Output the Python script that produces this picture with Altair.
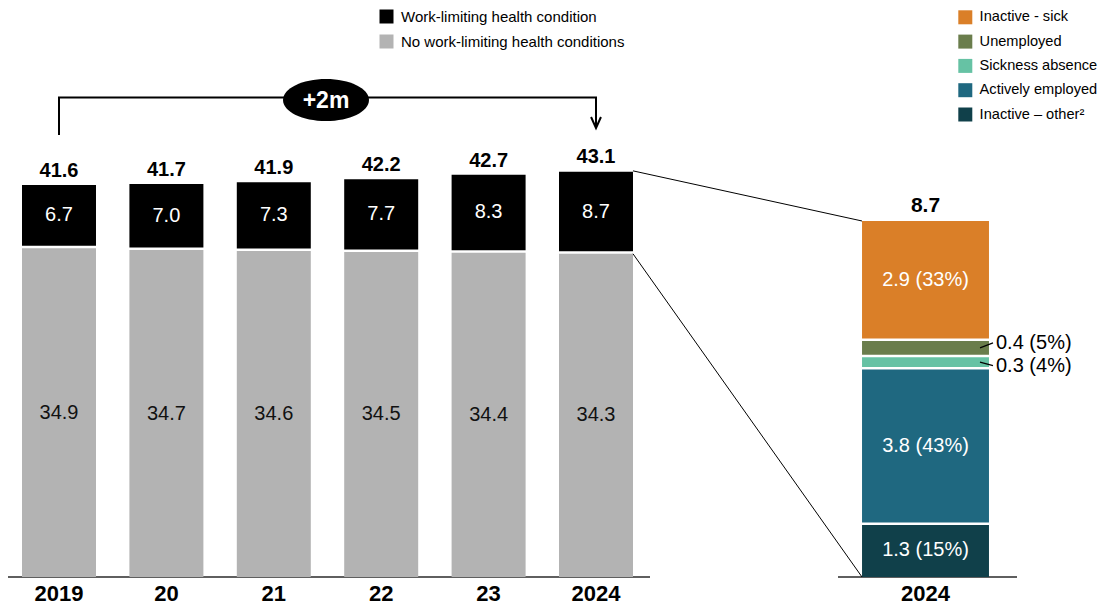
import altair as alt
import pandas as pd

# ---------------- data ----------------
years = ["2019", "20", "21", "22", "23", "2024"]
work_limiting = [6.7, 7.0, 7.3, 7.7, 8.3, 8.7]
no_work_limiting = [34.9, 34.7, 34.6, 34.5, 34.4, 34.3]
totals = [41.6, 41.7, 41.9, 42.2, 42.7, 43.1]
left_series = ["Work-limiting health condition", "No work-limiting health conditions"]
left_colors = ["#000000", "#B3B3B3"]

breakdown_year = "2024"
breakdown_total = 8.7
breakdown_cats = ["Inactive - sick", "Unemployed", "Sickness absence",
                  "Actively employed", "Inactive \u2013 other\u00b2"]   # top -> bottom
breakdown_vals = [2.9, 0.4, 0.3, 3.8, 1.3]
breakdown_pct = [33, 5, 4, 43, 15]
breakdown_colors = ["#DA7F28", "#6A7D4C", "#66C2A4", "#1F6880", "#10404A"]
change_label = "+2m"

# ---------------- layout ----------------
FONT = "Liberation Sans, Arial, sans-serif"
W, H = 1091, 598
SLOT_PX = 107.4          # px between bar centres
UNIT_PX = 9.423          # px per million on the left scale
X0, Y0 = 59, 577         # page px of first bar centre / baseline


def u(px):   # page px -> x units
    return (px - X0) / SLOT_PX


def v(py):   # page px -> y units
    return (Y0 - py) / UNIT_PX


xscale = alt.Scale(domain=[u(8), u(8 + W)], nice=False, zero=False)
yscale = alt.Scale(domain=[v(8 + H), v(8)], nice=False, zero=False)

HW = 0.3445              # left bar half width (slots)
R_SLOT = 8.068           # right bar centre
R_HW = 0.591             # right bar half width
ZOOM = 37.78 / breakdown_total   # right bar magnification
GAP = 2.5 / UNIT_PX


def X(f="x"):
    return alt.X(f"{f}:Q", scale=xscale, axis=None)


def Y(f="y"):
    return alt.Y(f"{f}:Q", scale=yscale, axis=None)


def legend(x, y, rp, fs):
    return alt.Legend(title=None, orient="none", legendX=x, legendY=y,
                      symbolType="square", symbolSize=196, symbolStrokeWidth=0,
                      symbolOpacity=1, labelFont=FONT, labelFontSize=fs,
                      labelColor="#000000", labelOffset=7, labelLimit=400,
                      rowPadding=rp, padding=0)


# ---- left stacked bars ----
rows = []
for i, (yr, wl, nwl) in enumerate(zip(years, work_limiting, no_work_limiting)):
    rows.append(dict(x=i - HW, x2=i + HW, y=0, y2=nwl, left_cat=left_series[1], xc=i,
                     mid=nwl / 2, lab=f"{nwl:.1f}", tc="#111111"))
    rows.append(dict(x=i - HW, x2=i + HW, y=nwl + GAP, y2=nwl + wl, left_cat=left_series[0], xc=i,
                     mid=nwl + wl / 2 + GAP / 2, lab=f"{wl:.1f}", tc="#ffffff"))
left_df = pd.DataFrame(rows)

left_bars = alt.Chart(left_df).mark_rect().encode(
    x=X(), x2="x2:Q", y=Y(), y2="y2:Q",
    color=alt.Color("left_cat:N",
                    scale=alt.Scale(domain=left_series, range=left_colors),
                    legend=legend(371, 1, 9, 15)),
)

seg_labels = alt.Chart(left_df).mark_text(font=FONT, fontSize=20, baseline="middle").encode(
    x=X("xc"), y=Y("mid"), text="lab:N", color=alt.Color("tc:N", scale=None))

tot_df = pd.DataFrame(dict(x=list(range(len(years))), y=totals,
                           lab=[f"{t:.1f}" for t in totals]))
tot_labels = alt.Chart(tot_df).mark_text(font=FONT, fontSize=20, fontWeight="bold",
                                         baseline="alphabetic", dy=-8, color="#000").encode(
    x=X(), y=Y(), text="lab:N")

# ---- right stacked bar ----
rrows = []
start = 0.0
n = len(breakdown_cats)
order_bt = list(range(n))[::-1]   # bottom -> top
for k, idx in enumerate(order_bt):
    val = breakdown_vals[idx]
    y0 = start * ZOOM + (GAP / 2 if k > 0 else 0)
    y1 = (start + val) * ZOOM - (GAP / 2 if k < n - 1 else 0)
    rrows.append(dict(x=R_SLOT - R_HW, x2=R_SLOT + R_HW, y=y0, y2=y1,
                      right_cat=breakdown_cats[idx], val=val,
                      mid=(start + val / 2) * ZOOM,
                      lab=f"{val:.1f} ({breakdown_pct[idx]}%)"))
    start += val
right_df = pd.DataFrame(rrows)

right_bars = alt.Chart(right_df).mark_rect().encode(
    x=X(), x2="x2:Q", y=Y(), y2="y2:Q",
    color=alt.Color("right_cat:N",
                    scale=alt.Scale(domain=breakdown_cats, range=breakdown_colors),
                    legend=legend(950, 2, 8.3, 14.6)),
)

inside = right_df[right_df["val"] >= 1].copy()
inside["xc"] = R_SLOT
right_in_labels = alt.Chart(inside).mark_text(font=FONT, fontSize=20, baseline="middle",
                                              color="#ffffff").encode(
    x=X("xc"), y=Y("mid"), text="lab:N")

shift_px = {"Unemployed": -5, "Sickness absence": 3.5}
outside = right_df[right_df["val"] < 1].copy()
outside["ly"] = [m - shift_px.get(c, 0) / UNIT_PX for m, c in zip(outside["mid"], outside["right_cat"])]
outside["lx0"] = u(980)
outside["lx1"] = u(993)
outside["tx"] = u(996)
right_out_labels = alt.Chart(outside).mark_text(font=FONT, fontSize=20, baseline="middle",
                                                align="left", color="#000").encode(
    x=X("tx"), y=Y("ly"), text="lab:N")
leaders = alt.Chart(outside).mark_rule(color="#000", strokeWidth=1.2).encode(
    x=X("lx0"), y=Y("mid"), x2="lx1:Q", y2="ly:Q")

rtot_df = pd.DataFrame(dict(x=[R_SLOT], y=[breakdown_total * ZOOM], lab=[f"{breakdown_total:.1f}"]))
rtot_label = alt.Chart(rtot_df).mark_text(font=FONT, fontSize=21, fontWeight="bold",
                                          baseline="alphabetic", dy=-9, color="#000").encode(
    x=X(), y=Y(), text="lab:N")

# ---- connectors ----
last = len(years) - 1
conn_df = pd.DataFrame(dict(
    x=[last + HW, last + HW],
    y=[totals[-1], no_work_limiting[-1]],
    x2=[R_SLOT - R_HW, R_SLOT - R_HW],
    y2=[breakdown_total * ZOOM, 0]))
connectors = alt.Chart(conn_df).mark_rule(color="#000", strokeWidth=1).encode(
    x=X(), y=Y(), x2="x2:Q", y2="y2:Q")

# ---- baselines ----
base_df = pd.DataFrame(dict(x=[u(8), u(838)], x2=[u(650), u(1017)], y=[0, 0]))
baselines = alt.Chart(base_df).mark_rule(color="#5f5f5f", strokeWidth=2).encode(
    x=X(), x2="x2:Q", y=Y())

# ---- year labels ----
yl_df = pd.DataFrame(dict(x=list(range(len(years))) + [R_SLOT], y=[0] * (len(years) + 1),
                          lab=years + [breakdown_year]))
year_labels = alt.Chart(yl_df).mark_text(font=FONT, fontSize=22, fontWeight="bold",
                                         baseline="alphabetic", dy=24, color="#000").encode(
    x=X(), y=Y(), text="lab:N")

# ---- bracket with +2m ----
br_df = pd.DataFrame(dict(x=[0, 0, last, last], y=[v(135), v(97.5), v(97.5), v(128)],
                          o=[0, 1, 2, 3]))
bracket = alt.Chart(br_df).mark_line(color="#000", strokeWidth=2, strokeJoin="miter").encode(
    x=X(), y=Y(), order="o:Q")
arrow_df = pd.DataFrame(dict(x=[last], y=[v(128)]))
arrow = alt.Chart(arrow_df).mark_point(shape="M -0.45 -1 L 0 0 L 0.45 -1", filled=False,
                                       size=484, strokeWidth=2, color="#000", opacity=1).encode(
    x=X(), y=Y())
ell_df = pd.DataFrame(dict(x=[u(326)], y=[v(100)], lab=[change_label]))
ellipse = alt.Chart(ell_df).mark_point(
    shape="M -1 0 A 1 0.49 0 1 0 1 0 A 1 0.49 0 1 0 -1 0 Z",
    filled=True, size=7396, color="#000", opacity=1).encode(x=X(), y=Y())
ell_text = alt.Chart(ell_df).mark_text(font=FONT, fontSize=23, fontWeight="bold",
                                       baseline="middle", color="#ffffff", dy=1).encode(
    x=X(), y=Y(), text="lab:N")

chart = alt.layer(
    baselines, left_bars, right_bars, connectors, seg_labels, tot_labels,
    right_in_labels, leaders, right_out_labels, rtot_label, year_labels,
    bracket, arrow, ellipse, ell_text,
).resolve_scale(color="independent").properties(
    width=W, height=H, padding=0,
    autosize=alt.AutoSizeParams(type="none"),
    background="#ffffff",
).configure_view(stroke=None)

chart.save("out.html", embed_options={"renderer": "svg", "actions": False})
